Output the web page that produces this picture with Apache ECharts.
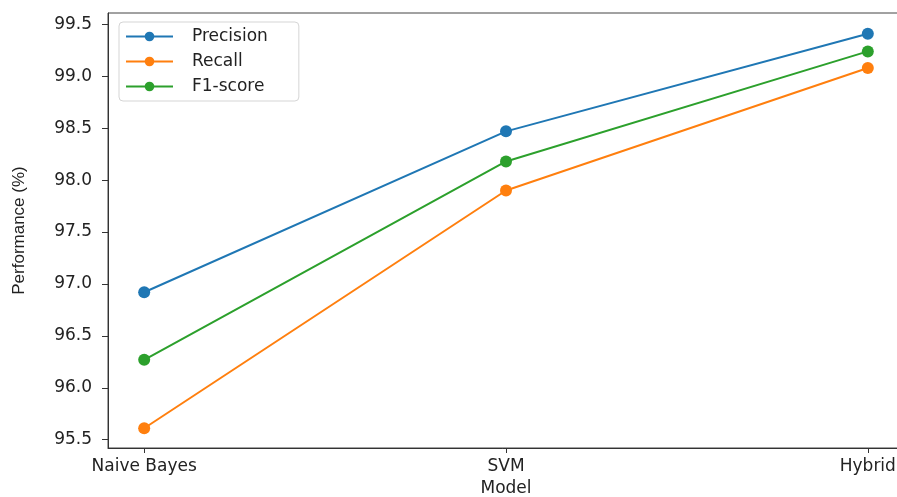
<!DOCTYPE html>
<html>
<head>
<meta charset="utf-8">
<script src="https://cdn.jsdelivr.net/npm/echarts@6/dist/echarts.min.js"></script>
<style>
html,body{margin:0;padding:0;background:#fff;}
#chart{width:897px;height:497px;}
</style>
</head>
<body>
<div id="chart"></div>
<script>
var categories = ['Naive Bayes', 'SVM', 'Hybrid'];
var precision = [96.92, 98.47, 99.41];
var recall = [95.61, 97.90, 99.08];
var f1score = [96.27, 98.18, 99.24];
var yTicks = [95.5, 96.0, 96.5, 97.0, 97.5, 98.0, 98.5, 99.0, 99.5];
var seriesNames = ['Precision', 'Recall', 'F1-score'];
var colors = ['#1f77b4', '#ff7f0e', '#2ca02c'];

function toPoints(arr) { return arr.map(function (v, i) { return [i, v]; }); }

var chart = echarts.init(document.getElementById('chart'));
var font = 'DejaVu Sans';
var series = [precision, recall, f1score].map(function (arr, k) {
  return {
    name: seriesNames[k],
    type: 'line',
    data: toPoints(arr),
    symbol: 'circle',
    symbolSize: 12,
    lineStyle: { width: 2, color: colors[k] },
    itemStyle: { color: colors[k] },
    z: 3 + k
  };
});
chart.setOption({
  animation: false,
  backgroundColor: '#ffffff',
  grid: {
    left: 108, top: 13, width: 796, height: 435,
    outerBoundsMode: 'none',
    containLabel: false,
    show: true, borderColor: '#444', borderWidth: 1, backgroundColor: 'transparent'
  },
  legend: {
    orient: 'vertical',
    left: 119, top: 22,
    padding: [6, 31, 6, 6],
    itemWidth: 47, itemHeight: 12, itemGap: 8,
    backgroundColor: 'rgba(255,255,255,0.8)',
    borderColor: '#d5d5d5', borderWidth: 1, borderRadius: 4,
    textStyle: { fontFamily: font, fontSize: 17, color: '#222', lineHeight: 16, padding: [0, 0, 0, 14] },
    data: seriesNames
  },
  xAxis: {
    type: 'value',
    min: -0.1, max: 2.1,
    name: 'Model',
    nameLocation: 'middle',
    nameGap: 32,
    nameTextStyle: { fontFamily: font, fontSize: 17, color: '#222' },
    axisLine: { show: true, onZero: false, lineStyle: { color: '#333', width: 1 } },
    axisTick: { show: true, customValues: [0, 1, 2], length: 5, lineStyle: { color: '#333' } },
    axisLabel: {
      customValues: [0, 1, 2],
      formatter: function (v) { return categories[Math.round(v)]; },
      fontFamily: font, fontSize: 17, color: '#222', margin: 10,
      hideOverlap: false
    },
    splitLine: { show: false }
  },
  yAxis: {
    type: 'value',
    min: 95.42, max: 99.61,
    name: 'Performance (%)',
    nameLocation: 'middle',
    nameGap: 80,
    nameTextStyle: { fontFamily: 'Liberation Sans', fontSize: 17, color: '#222' },
    axisLine: { show: true, onZero: false, lineStyle: { color: '#333', width: 1 } },
    axisTick: { show: true, customValues: yTicks, length: 6, lineStyle: { color: '#333' } },
    axisLabel: {
      customValues: yTicks,
      formatter: function (v) { return v.toFixed(1); },
      fontFamily: font, fontSize: 17, color: '#222', margin: 16
    },
    splitLine: { show: false }
  },
  series: series
});
</script>
</body>
</html>
